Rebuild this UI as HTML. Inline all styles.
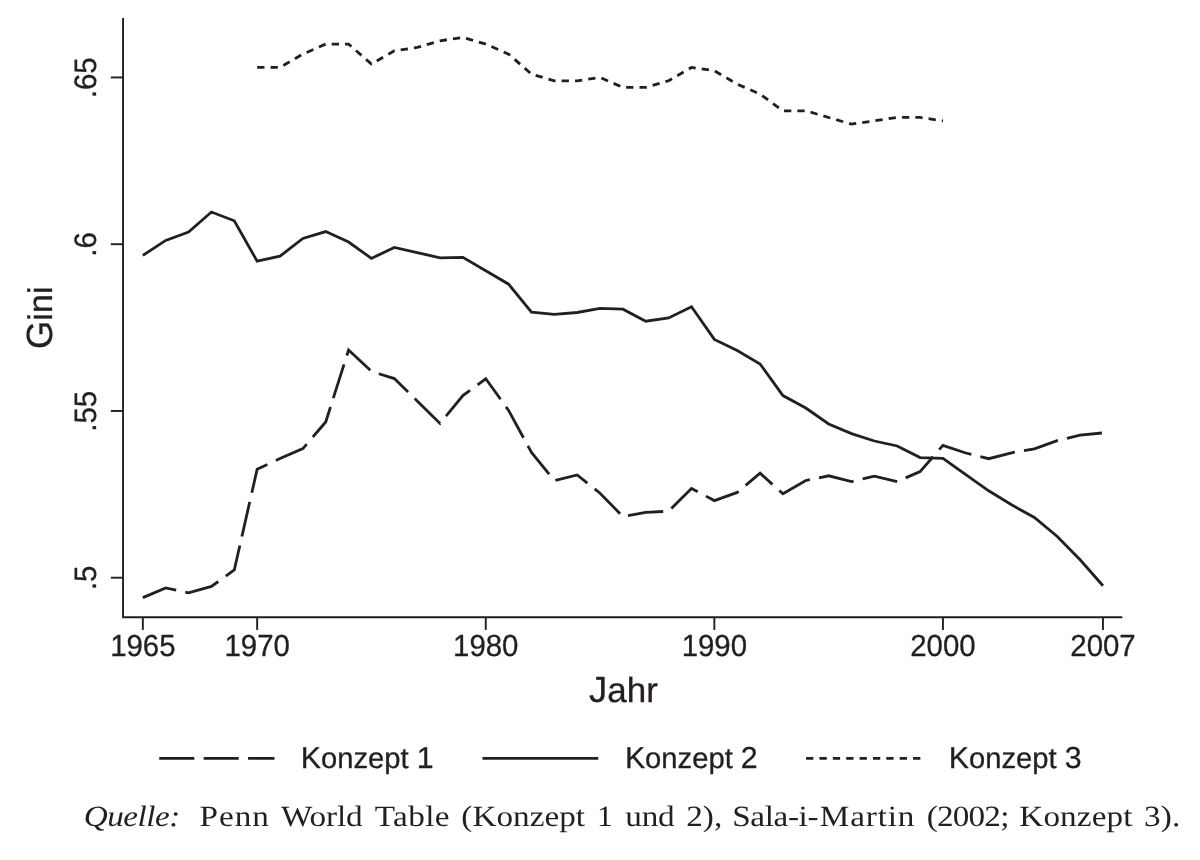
<!DOCTYPE html>
<html lang="de">
<head>
<meta charset="utf-8">
<title>Gini – Konzept 1, 2, 3</title>
<style>
html,body{margin:0;padding:0;background:#fff;}
body{width:1200px;height:860px;overflow:hidden;}
svg{display:block;}
text{white-space:pre;text-rendering:geometricPrecision;}
</style>
</head>
<body>
<svg width="1200" height="860" viewBox="0 0 1200 860">
<rect width="1200" height="860" fill="#ffffff"/>
<g stroke="#231f20" stroke-width="1.9" fill="none" stroke-linecap="butt">
<path d="M123.05,18 V617.2 H1122.3"/>
<path d="M110.8,577.70 H123.05"/>
<path d="M110.8,410.95 H123.05"/>
<path d="M110.8,244.20 H123.05"/>
<path d="M110.8,77.45 H123.05"/>
<path d="M142.85,617.2 V629.9"/>
<path d="M257.15,617.2 V629.9"/>
<path d="M485.75,617.2 V629.9"/>
<path d="M714.35,617.2 V629.9"/>
<path d="M942.95,617.2 V629.9"/>
<path d="M1102.97,617.2 V629.9"/>
</g>
<g stroke="#231f20" stroke-width="2.8" fill="none" stroke-linejoin="miter" stroke-linecap="butt">
<polyline id="k2" points="142.85,255.40 165.71,240.40 188.57,232.00 211.43,212.00 234.29,220.80 257.15,261.20 280.01,256.20 302.87,238.40 325.73,231.60 348.59,242.00 371.45,258.40 394.31,247.40 417.17,252.60 440.03,257.80 462.89,257.40 485.75,270.80 508.61,284.20 531.47,312.20 554.33,314.40 577.19,312.50 600.05,308.40 622.91,309.20 645.77,321.20 668.63,318.00 691.49,306.80 714.35,339.40 737.21,350.60 760.07,364.00 782.93,395.60 805.79,408.00 828.65,424.00 851.51,433.60 874.37,441.00 897.23,446.00 920.09,457.60 942.95,458.30 965.81,474.70 988.67,490.80 1011.53,504.80 1034.39,517.50 1057.25,536.50 1080.11,559.80 1102.97,585.70"/>
<polyline id="k1" stroke-dasharray="35.5 9.3" points="142.85,597.60 165.71,588.00 188.57,592.80 211.43,586.40 234.29,570.00 257.15,469.20 280.01,458.60 302.87,448.60 325.73,422.00 348.59,350.00 371.45,371.40 394.31,378.60 417.17,400.90 440.03,423.40 462.89,395.60 485.75,378.80 508.61,410.40 531.47,452.40 554.33,480.60 577.19,475.00 600.05,493.20 622.91,516.60 645.77,512.40 668.63,511.20 691.49,488.40 714.35,500.60 737.21,492.40 760.07,473.20 782.93,493.80 805.79,480.50 828.65,475.80 851.51,481.50 874.37,476.10 897.23,481.60 920.09,471.60 942.95,445.40 965.81,453.00 988.67,458.70 1011.53,452.80 1034.39,448.90 1057.25,440.60 1080.11,435.20 1102.97,432.90"/>
<polyline id="k3" stroke-dasharray="7.3 6.07" points="257.15,67.44 280.01,67.44 302.87,54.10 325.73,44.10 348.59,44.10 371.45,64.11 394.31,50.77 417.17,47.43 440.03,40.76 462.89,37.43 485.75,44.10 508.61,54.10 531.47,74.11 554.33,80.78 577.19,80.78 600.05,77.45 622.91,87.45 645.77,87.45 668.63,80.78 691.49,67.44 714.35,70.78 737.21,84.12 760.07,94.12 782.93,110.80 805.79,110.80 828.65,117.47 851.51,124.14 874.37,120.81 897.23,117.47 920.09,117.47 942.95,120.81"/>
<path d="M159.25,758.3 H274.5" stroke-dasharray="35.1 9.3"/>
<path d="M482.5,758.3 H598.25"/>
<path d="M806.1,758.3 H920.7" stroke-dasharray="7.3 6.07"/>
</g>
<g fill="#231f20" stroke="#231f20" stroke-width="0.3" stroke-linejoin="round" font-family="'Liberation Sans', Arial, Helvetica, sans-serif">
<g font-size="29.4" text-anchor="middle">
<text transform="translate(142.85,656) scale(1,1.038)">1965</text>
<text transform="translate(257.15,656) scale(1,1.038)">1970</text>
<text transform="translate(485.75,656) scale(1,1.038)">1980</text>
<text transform="translate(714.35,656) scale(1,1.038)">1990</text>
<text transform="translate(942.95,656) scale(1,1.038)">2000</text>
<text transform="translate(1102.97,656) scale(1,1.038)">2007</text>
<text transform="translate(96.0,578.00) rotate(-90) scale(1,1.045)" font-size="29.6">.5</text>
<text transform="translate(96.0,411.25) rotate(-90) scale(1,1.045)" font-size="29.6">.55</text>
<text transform="translate(96.0,244.50) rotate(-90) scale(1,1.045)" font-size="29.6">.6</text>
<text transform="translate(96.0,77.75) rotate(-90) scale(1,1.045)" font-size="29.6">.65</text>
</g>
<g font-size="35.0" text-anchor="middle">
<text x="623.4" y="702"><tspan font-size="36.4">J</tspan>ahr</text>
<text transform="translate(52.2,317.7) rotate(-90)" font-size="34.2"><tspan font-size="36.4">G</tspan>ini</text>
</g>
<g font-size="29.2">
<text x="300.8" y="768"><tspan font-size="30.3">K</tspan>onzept <tspan font-size="30.3">1</tspan></text>
<text x="624.9" y="768"><tspan font-size="30.3">K</tspan>onzept <tspan font-size="30.3">2</tspan></text>
<text x="948.8" y="768"><tspan font-size="30.3">K</tspan>onzept <tspan font-size="30.3">3</tspan></text>
</g>
</g>
<g fill="#231f20" font-family="'Liberation Serif', 'Times New Roman', serif" font-size="29.4">
<text transform="translate(83.83,825.6) scale(1.1300,1)" letter-spacing="-0.469" font-style="italic">Quelle: </text>
<text transform="translate(199.61,825.6) scale(1.1300,1)" letter-spacing="0.853">Penn </text>
<text transform="translate(280.98,825.6) scale(1.1300,1)" letter-spacing="-0.103">World </text>
<text transform="translate(374.78,825.6) scale(1.1300,1)" letter-spacing="0.316">Table </text>
<text transform="translate(461.30,825.6) scale(1.1300,1)" letter-spacing="0.028">(Konzept </text>
<text transform="translate(597.00,825.6) scale(1.0739,1)" letter-spacing="0.000">1 </text>
<text transform="translate(625.30,825.6) scale(1.1300,1)" letter-spacing="-0.214">und </text>
<text transform="translate(686.21,825.6) scale(1.1300,1)" letter-spacing="0.035">2), </text>
<text transform="translate(732.21,825.6) scale(1.1300,1)" letter-spacing="-0.335">Sala-i-</text>
<text transform="translate(819.80,825.6) scale(1.1300,1)" letter-spacing="0.750">Martin </text>
<text transform="translate(926.80,825.6) scale(1.1300,1)" letter-spacing="-0.732">(2002; </text>
<text transform="translate(1019.30,825.6) scale(1.1300,1)" letter-spacing="0.093">Konzept </text>
<text transform="translate(1143.94,825.6) scale(1.1300,1)" letter-spacing="0.191">3).</text>
</g>
</svg>
</body>
</html>
